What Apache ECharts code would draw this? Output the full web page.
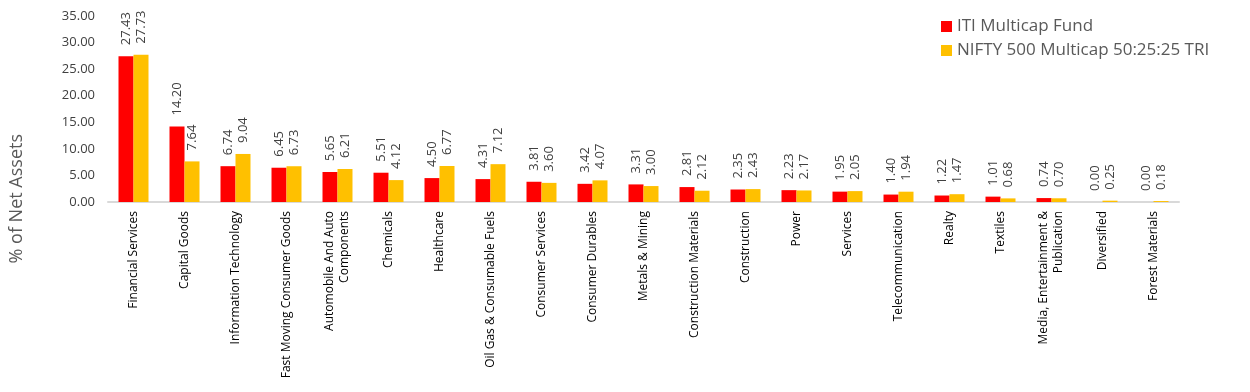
<!DOCTYPE html>
<html>
<head>
<meta charset="utf-8">
<script src="https://cdn.jsdelivr.net/npm/echarts@6/dist/echarts.min.js"></script>
<style>html,body{margin:0;padding:0;background:#fff;}#c{width:1250px;height:392px;}</style>
</head>
<body>
<div id="c"></div>
<script>
const categories = ["Financial Services","Capital Goods","Information Technology","Fast Moving Consumer Goods","Automobile And Auto\nComponents","Chemicals","Healthcare","Oil Gas & Consumable Fuels","Consumer Services","Consumer Durables","Metals & Mining","Construction Materials","Construction","Power","Services","Telecommunication","Realty","Textiles","Media, Entertainment &\nPublication","Diversified","Forest Materials"];
const fundValues = [27.43,14.20,6.74,6.45,5.65,5.51,4.50,4.31,3.81,3.42,3.31,2.81,2.35,2.23,1.95,1.40,1.22,1.01,0.74,0.00,0.00];
const indexValues = [27.73,7.64,9.04,6.73,6.21,4.12,6.77,7.12,3.60,4.07,3.00,2.12,2.43,2.17,2.05,1.94,1.47,0.68,0.70,0.25,0.18];
const seriesNames = ["ITI Multicap Fund","NIFTY 500 Multicap 50:25:25 TRI"];
const yTitle = "% of Net Assets";

const FONT = "'Open Sans', 'Liberation Sans', sans-serif";
const chart = echarts.init(document.getElementById('c'), null, {renderer:'canvas'});
const lbl = () => ({
  show: true, position: 'top', rotate: 90, align: 'left', verticalAlign: 'middle',
  distance: 11, fontSize: 13, color: '#404040', fontFamily: FONT,
  formatter: p => p.value.toFixed(2)
});
chart.setOption({
  animation: false,
  textStyle: {fontFamily: FONT},
  grid: {left: 108, right: 71, top: 16, bottom: 190, containLabel: false},
  legend: {
    orient: 'vertical', left: 936, top: 13, itemWidth: 11, itemHeight: 11, itemGap: 7,
    icon: 'rect',
    textStyle: {fontSize: 17, color: '#595959', fontFamily: FONT},
    data: seriesNames
  },
  xAxis: {
    type: 'category', data: categories,
    axisLine: {lineStyle: {color: '#d9d9d9', width: 2}},
    axisTick: {show: false},
    axisLabel: {interval: 0, rotate: 90, fontSize: 12, color: '#000', fontFamily: FONT, margin: 9, lineHeight: 15}
  },
  yAxis: {
    type: 'value', min: 0, max: 35, interval: 5,
    splitLine: {show: false},
    axisLine: {show: false}, axisTick: {show: false},
    axisLabel: {formatter: v => v.toFixed(2), fontSize: 13, color: '#404040', fontFamily: FONT, margin: 13}
  },
  graphic: [{
    type: 'text', left: 8, top: 134, rotation: Math.PI/2,
    style: {text: yTitle, fontSize: 18, fill: '#595959', fontFamily: FONT}
  }],
  series: [
    {name: seriesNames[0], type: 'bar', data: fundValues, barWidth: 15, barGap: '0%',
     itemStyle: {color: '#FF0000'}, label: lbl()},
    {name: seriesNames[1], type: 'bar', data: indexValues, barWidth: 15, barGap: '0%',
     itemStyle: {color: '#FFC000'}, label: lbl()}
  ]
});
</script>
</body>
</html>
